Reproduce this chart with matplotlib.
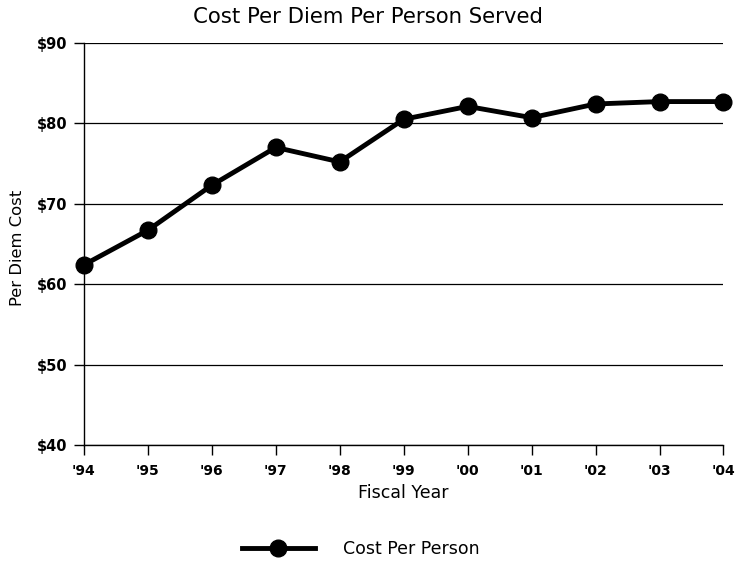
import matplotlib
matplotlib.use("Agg")
import matplotlib.pyplot as plt

plt.rcParams['font.family'] = ['DejaVu Sans']

years = ["'94", "'95", "'96", "'97", "'98", "'99", "'00", "'01", "'02", "'03", "'04"]
cost_per_person = [62.4, 66.7, 72.3, 77.0, 75.2, 80.5, 82.1, 80.7, 82.4, 82.7, 82.7]
y_ticks = [40, 50, 60, 70, 80, 90]
y_labels = ["$40", "$50", "$60", "$70", "$80", "$90"]

fig = plt.figure(figsize=(7.36, 5.64), dpi=100)
ax = fig.add_axes([0.114, 0.211, 0.869, 0.713])

x = list(range(len(years)))
ax.plot(x, cost_per_person, color='black', linewidth=3.5, marker='o',
        markersize=12, label='Cost Per Person', zorder=3, clip_on=False)

ax.set_xlim(0, len(years) - 1)
ax.set_ylim(40, 90)
ax.set_xticks(x)
ax.set_xticklabels(years, fontsize=10, fontweight='bold')
ax.set_yticks(y_ticks)
ax.set_yticklabels(y_labels, fontsize=10.5, fontweight='bold')

ax.yaxis.grid(True, color='black', linewidth=0.9)
ax.set_axisbelow(True)
for side in ('top', 'right'):
    ax.spines[side].set_visible(False)
for side in ('left', 'bottom'):
    ax.spines[side].set_linewidth(1.0)
ax.tick_params(axis='both', direction='out', length=7, width=1, colors='black')
ax.tick_params(axis='x', pad=7)
ax.tick_params(axis='y', pad=5)

ax.set_xlabel('Fiscal Year', fontsize=12.5)
ax.xaxis.set_label_coords(0.5, -0.098)
ax.set_ylabel('Per Diem Cost', fontsize=11.8)
ax.yaxis.set_label_coords(-0.092, 0.49)
fig.suptitle('Cost Per Diem Per Person Served', fontsize=15.3, x=0.5, y=0.988, va='top')

fig.legend(loc='center', bbox_to_anchor=(0.49, 0.027), frameon=False,
           fontsize=12.5, handlelength=4.2, handletextpad=1.6, markerscale=1.0)

fig.savefig('out.png', dpi=100)
